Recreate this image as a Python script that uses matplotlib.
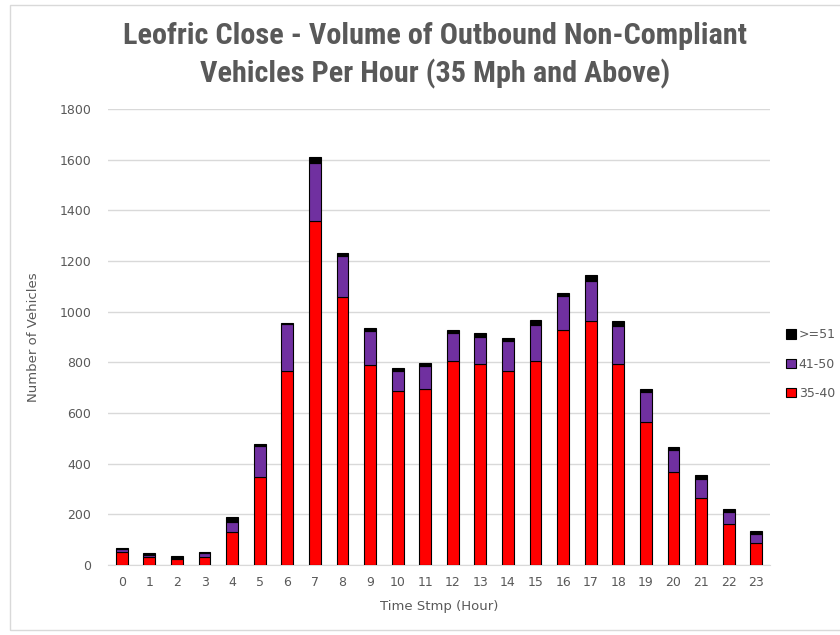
import matplotlib
matplotlib.use("Agg")
import matplotlib.pyplot as plt
from matplotlib.patches import Rectangle
from matplotlib import font_manager
import numpy as np

hours = [str(h) for h in range(24)]
s35_40 = [50, 32, 22, 32, 130, 348, 765, 1357, 1056, 790, 685, 694, 805, 793, 764, 807, 927, 964, 792, 564, 367, 264, 160, 86]
s41_50 = [15, 7, 5, 17, 38, 122, 185, 231, 164, 134, 82, 92, 112, 106, 121, 140, 134, 158, 152, 120, 88, 77, 50, 36]
s51 = [3, 9, 8, 2, 20, 7, 6, 22, 11, 13, 11, 11, 11, 15, 10, 21, 14, 22, 18, 10, 10, 13, 12, 11]

names = set(f.name for f in font_manager.fontManager.ttflist)
title_font, title_size = 'DejaVu Sans', 16.3
for cand, sz in [('Roboto Condensed', 21.8), ('Liberation Sans Narrow', 21), ('DejaVu Sans Condensed', 18)]:
    if cand in names:
        title_font, title_size = cand, sz
        break

W, H = 840, 635
fig = plt.figure(figsize=(W/100, H/100), dpi=100)
fig.patches.append(Rectangle((10/W, 5/H), 1, 1 - 10/H, transform=fig.transFigure,
                             fill=False, edgecolor='#d9d9d9', lw=1.0))
ax = fig.add_axes([108/W, 1 - 565/H, (770-108)/W, (565-109)/H])

x = np.arange(len(hours))
bw = 0.43
red = '#ff0000'
purple = '#7030a0'
b1 = ax.bar(x, s35_40, bw, color=red, edgecolor='black', lw=0.8, label='35-40', zorder=3)
b2 = ax.bar(x, s41_50, bw, bottom=s35_40, color=purple, edgecolor='black', lw=0.8, label='41-50', zorder=3)
bot = np.array(s35_40) + np.array(s41_50)
b3 = ax.bar(x, s51, bw, bottom=bot, color='black', edgecolor='black', lw=0.8, label='>=51', zorder=3)

ax.set_ylim(0, 1800)
ax.set_xlim(-0.5, 23.5)
ax.set_yticks(range(0, 1801, 200))
ax.set_xticks(x)
ax.set_xticklabels(hours)
ax.grid(axis='y', color='#d9d9d9', lw=1, zorder=0)
for s in ['top', 'right', 'left']:
    ax.spines[s].set_visible(False)
ax.spines['bottom'].set_color('#d9d9d9')
ax.tick_params(axis='both', length=0, labelsize=9, colors='#595959', pad=8)
ax.tick_params(axis='y', pad=12)

ax.set_ylabel('Number of Vehicles', fontsize=9.5, color='#595959', labelpad=14)
ax.set_xlabel('Time Stmp (Hour)', fontsize=9.5, color='#595959', labelpad=8)

fig.text(435/W, 1 - 36/H, 'Leofric Close - Volume of Outbound Non-Compliant',
         ha='center', va='center', fontsize=title_size, fontweight='bold', color='#595959', family=title_font)
fig.text(435/W, 1 - 74/H, 'Vehicles Per Hour (35 Mph and Above)',
         ha='center', va='center', fontsize=title_size, fontweight='bold', color='#595959', family=title_font)

leg = ax.legend(handles=[b3, b2, b1], loc='upper left', bbox_to_anchor=(783/W, 1 - 326/H),
                bbox_transform=fig.transFigure, frameon=False, fontsize=9,
                handlelength=0.8, handleheight=0.8, handletextpad=0.25, labelspacing=1.3,
                borderpad=0.2, borderaxespad=0, labelcolor='#595959')

fig.savefig('out.png', dpi=100)
